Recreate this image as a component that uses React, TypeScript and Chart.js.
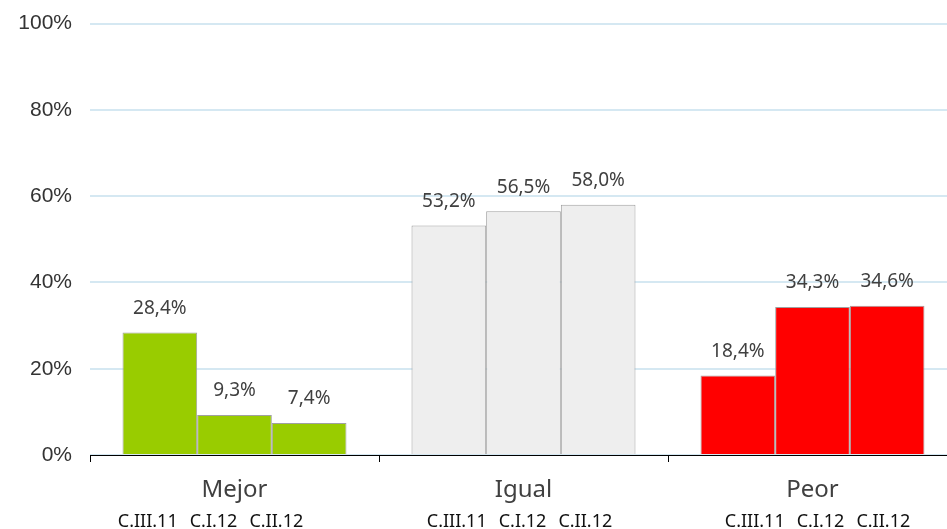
import React, { useEffect, useRef } from "react";
import { Chart, registerables } from "chart.js";

Chart.register(...registerables);

const categories = ["Mejor", "Igual", "Peor"];
const seriesNames = ["C.III.11", "C.I.12", "C.II.12"];
const seriesValues = [
  [28.4, 53.2, 18.4],
  [9.3, 56.5, 34.3],
  [7.4, 58.0, 34.6],
];
const categoryColors = ["#99cc00", "#eeeeee", "#ff0000"];
const yTicks = [0, 20, 40, 60, 80, 100];
const subLabelShift = [-24, -4, 5];

const fmt = (v: number) => v.toFixed(1).replace(".", ",") + "%";

const labelPlugin = {
  id: "labels",
  afterDatasetsDraw(chart: any) {
    const ctx = chart.ctx;
    ctx.save();
    ctx.textBaseline = "middle";
    ctx.textAlign = "center";
    ctx.fillStyle = "#404040";
    ctx.font = "19px 'Noto Sans'";
    chart.data.datasets.forEach((ds: any, di: number) => {
      const meta = chart.getDatasetMeta(di);
      meta.data.forEach((bar: any, i: number) => {
        ctx.fillText(fmt(ds.data[i]), bar.x, bar.y - 24);
      });
    });
    ctx.fillStyle = "#111111";
    ctx.font = "18px 'Noto Sans'";
    ctx.textAlign = "left";
    const xs = chart.scales.x;
    const gap = 12;
    const yPos = chart.chartArea.bottom + 67;
    categories.forEach((_c, ci) => {
      const cx = xs.getPixelForValue(ci) + subLabelShift[ci];
      const widths = seriesNames.map((n) => ctx.measureText(n).width);
      const total = widths.reduce((a, b) => a + b, 0) + gap * (seriesNames.length - 1);
      let x = cx - total / 2;
      seriesNames.forEach((n, ni) => {
        ctx.fillText(n, x, yPos);
        x += widths[ni] + gap;
      });
    });
    ctx.restore();
  },
};

export default function App() {
  const ref = useRef<HTMLCanvasElement>(null);
  useEffect(() => {
    if (!ref.current) return;
    const chart = new Chart(ref.current, {
      type: "bar",
      data: {
        labels: categories,
        datasets: seriesValues.map((vals, i) => ({
          label: seriesNames[i],
          data: vals,
          backgroundColor: categoryColors,
          borderColor: "#a0a0a0",
          borderWidth: 1,
          categoryPercentage: 0.775,
          barPercentage: 1,
        })),
      },
      options: {
        responsive: false,
        animation: false,
        layout: { padding: { top: 15, right: 0, left: 0, bottom: 0 } },
        plugins: { legend: { display: false }, tooltip: { enabled: false } },
        scales: {
          x: {
            afterFit: (s: any) => { s.height = 74; },
            border: { display: true, color: "#000000", width: 1 },
            grid: { display: true, drawOnChartArea: false, drawTicks: true, tickLength: 7, color: "#000000", offset: true },
            ticks: { color: "#404040", font: { family: "'Noto Sans'", size: 24 }, padding: 14 },
          },
          y: {
            min: 0,
            max: 100,
            afterFit: (s: any) => { s.width = 90; },
            afterBuildTicks: (s: any) => { s.ticks = yTicks.map((v) => ({ value: v })); },
            border: { display: false },
            grid: { color: "#d5e8f2", lineWidth: 2, drawTicks: false },
            ticks: {
              color: "#333333",
              font: { family: "'Liberation Sans', Arial", size: 21 },
              padding: 18,
              callback: (v: any) => v + "%",
            },
          },
        },
      },
      plugins: [labelPlugin],
    });
    return () => chart.destroy();
  }, []);
  return (
    <div style={{ position: "absolute", left: 0, top: 0, width: 947, height: 529, background: "#fff", overflow: "hidden" }}>
      <canvas ref={ref} width={957} height={536} style={{ position: "absolute", left: 0, top: -7 }} />
    </div>
  );
}
